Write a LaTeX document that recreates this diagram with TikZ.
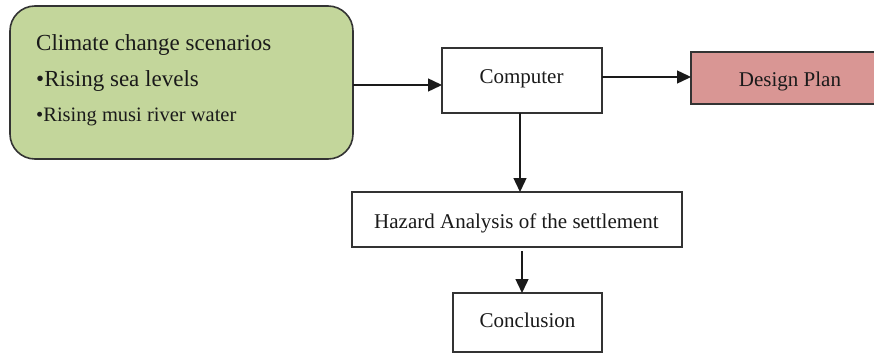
\documentclass[tikz,border=0pt]{standalone}
\usepackage{fontspec}
\setmainfont{Liberation Serif}
\usetikzlibrary{arrows.meta}
\definecolor{boxgreen}{HTML}{C3D69B}
\definecolor{boxpink}{HTML}{D99694}
\definecolor{edge}{HTML}{333333}
\definecolor{ink}{HTML}{1A1A1A}
\tikzset{
  box/.style={draw=edge, line width=1.6pt, inner sep=0pt, outer sep=0pt},
  lbl/.style={anchor=base, inner sep=0pt, text=ink, font=\fontsize{21}{25}\selectfont},
  llbl/.style={anchor=base west, inner sep=0pt, text=ink},
  arr/.style={draw=ink, line width=1.4pt, -{Triangle[length=14pt,width=13pt]}}
}
\begin{document}
\begin{tikzpicture}[x=1pt,y=-1pt]
\useasboundingbox (0,0) rectangle (874,353);
\clip (0,0) rectangle (874,353);
% boxes
\node[box, fill=boxgreen, rounded corners=25pt, minimum width=343pt, minimum height=153pt] (green) at (181.5,82.5) {};
\node[box, fill=white, minimum width=160pt, minimum height=65pt] (comp) at (522,80.5) {};
\node[box, fill=boxpink, minimum width=209pt, minimum height=52pt] (plan) at (795.5,78) {};
\node[box, fill=white, minimum width=330pt, minimum height=55pt] (haz) at (517,219.5) {};
\node[box, fill=white, minimum width=149pt, minimum height=59pt] (concl) at (527.5,322.5) {};
% texts
\node[llbl, font=\fontsize{23}{27}\selectfont] (t1) at (36,50) {Climate change scenarios};
\node[llbl, font=\fontsize{23}{27}\selectfont] (t2) at (36,86) {•Rising sea levels};
\node[llbl, font=\fontsize{20.5}{24}\selectfont] (t3) at (36,121) {•Rising musi river water};
\node[lbl] (tcomp) at (521.5,83) {Computer};
\node[lbl] (tplan) at (790,86) {Design Plan};
\node[lbl] (thaz) at (516.5,228) {Hazard Analysis of the settlement};
\node[lbl] (tconcl) at (527.5,327) {Conclusion};
% connectors
\draw[arr] (green.east |- 0,85) -- (comp.west |- 0,85);
\draw[arr] (comp.east |- 0,77) -- (plan.west |- 0,77);
\draw[arr] (comp.south -| 520,0) -- (haz.north -| 520,0);
\draw[arr] ([yshift=-4pt]haz.south -| 522,0) -- (concl.north -| 522,0);
\end{tikzpicture}
\end{document}
